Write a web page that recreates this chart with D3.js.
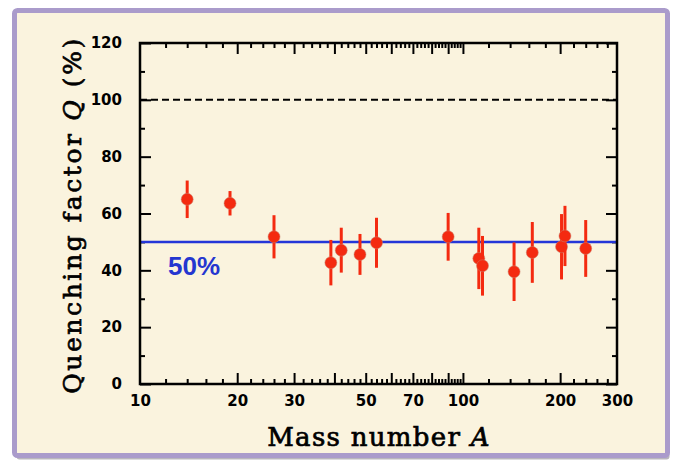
<!DOCTYPE html>
<html>
<head>
<meta charset="utf-8">
<script src="https://cdn.jsdelivr.net/npm/d3@7"></script>
<style>
  html, body { margin: 0; padding: 0; background: #ffffff; }
  svg { display: block; }
</style>
</head>
<body>
<svg id="chart" width="674" height="462"></svg>
<script>
// mass numbers of the measured nuclei
const massNumbers = [14, 19, 26, 39, 42, 48, 54, 90, 112, 115, 144, 164, 202, 207, 240];
// quenching factor Q in percent
const quenching = [65, 63.6, 51.8, 42.7, 47.1, 45.6, 49.7, 51.8, 44.2, 41.6, 39.5, 46.3, 48.3, 52.1, 47.7];
// half length of each error bar
const errors = [6.6, 4.3, 7.6, 8.0, 7.9, 7.2, 8.8, 8.4, 10.8, 10.5, 10.3, 10.7, 11.5, 10.6, 10.0];

const xTickLabels = [10, 20, 30, 50, 70, 100, 200, 300];
const xMajorTicks = [20, 30, 40, 50, 60, 70, 80, 90, 100, 200];
const yTickLabels = [0, 20, 40, 60, 80, 100, 120];
const yMinorTicks = [10, 30, 50, 70, 90, 110];
const referenceLine = 100;
const averageLine = 50;
const averageLabel = '50%';

const width = 674;
const height = 462;
const plot = { left: 140, right: 617, top: 43, bottom: 384 };

const svg = d3.select('#chart');

// outer card with purple border and a little shadow
svg.append('rect')
    .attr('x', 16.5).attr('y', 13.5)
    .attr('width', 653).attr('height', 446)
    .attr('rx', 3)
    .attr('fill', '#b9b6bd');
svg.append('rect')
    .attr('x', 14.5).attr('y', 10.5)
    .attr('width', 653).attr('height', 445)
    .attr('rx', 3)
    .attr('fill', '#faf3de')
    .attr('stroke', '#aa9bcb')
    .attr('stroke-width', 5);

const x = d3.scaleLog()
    .domain([10, 300])
    .range([plot.left, plot.right]);

const y = d3.scaleLinear()
    .domain([0, 120])
    .range([plot.bottom, plot.top]);

// minor ticks: every 2 up to 100, every 20 above
const xMinorTicks = d3.range(12, 100, 2).concat(d3.range(120, 300, 20))
    .filter(v => !xMajorTicks.includes(v));

const tickStyle = g => {
    g.select('.domain').remove();
    g.selectAll('.tick line').attr('stroke', '#000').attr('stroke-width', 2);
    g.selectAll('.tick text')
        .attr('fill', '#000')
        .style('font-family', '"DejaVu Sans", sans-serif')
        .style('font-weight', 'bold')
        .style('font-size', '15px');
};

// bottom and top ticks (pointing inward)
svg.append('g')
    .attr('transform', `translate(0, ${plot.bottom})`)
    .call(d3.axisBottom(x).tickValues(xMajorTicks).tickSize(-11).tickFormat(''))
    .call(tickStyle);
svg.append('g')
    .attr('transform', `translate(0, ${plot.bottom})`)
    .call(d3.axisBottom(x).tickValues(xMinorTicks).tickSize(-5).tickFormat(''))
    .call(tickStyle);
svg.append('g')
    .attr('transform', `translate(0, ${plot.top})`)
    .call(d3.axisTop(x).tickValues(xMajorTicks).tickSize(-11).tickFormat(''))
    .call(tickStyle);
svg.append('g')
    .attr('transform', `translate(0, ${plot.top})`)
    .call(d3.axisTop(x).tickValues(xMinorTicks).tickSize(-5).tickFormat(''))
    .call(tickStyle);

// x tick labels
svg.append('g')
    .attr('transform', `translate(0, ${plot.bottom})`)
    .call(d3.axisBottom(x).tickValues(xTickLabels).tickSize(0).tickPadding(11).tickFormat(d3.format('d')))
    .call(tickStyle);

// left and right ticks
svg.append('g')
    .attr('transform', `translate(${plot.left}, 0)`)
    .call(d3.axisLeft(y).tickValues(yTickLabels).tickSize(-11).tickPadding(18).tickFormat(d3.format('d')))
    .call(tickStyle);
svg.append('g')
    .attr('transform', `translate(${plot.left}, 0)`)
    .call(d3.axisLeft(y).tickValues(yMinorTicks).tickSize(-5).tickFormat(''))
    .call(tickStyle);
svg.append('g')
    .attr('transform', `translate(${plot.right}, 0)`)
    .call(d3.axisRight(y).tickValues(yTickLabels).tickSize(-11).tickFormat(''))
    .call(tickStyle);
svg.append('g')
    .attr('transform', `translate(${plot.right}, 0)`)
    .call(d3.axisRight(y).tickValues(yMinorTicks).tickSize(-5).tickFormat(''))
    .call(tickStyle);

// dashed line at 100%
svg.append('line')
    .attr('x1', plot.left).attr('x2', plot.right)
    .attr('y1', y(referenceLine)).attr('y2', y(referenceLine))
    .attr('stroke', '#000')
    .attr('stroke-width', 2)
    .attr('stroke-dasharray', '7,4');

// blue 50% line and its label
svg.append('line')
    .attr('x1', plot.left).attr('x2', plot.right)
    .attr('y1', y(averageLine)).attr('y2', y(averageLine))
    .attr('stroke', '#2436d8')
    .attr('stroke-width', 2.5);
svg.append('text')
    .attr('x', x(14.7))
    .attr('y', y(averageLine) + 33)
    .attr('text-anchor', 'middle')
    .attr('fill', '#2436d0')
    .style('font-family', '"Liberation Sans", Arial, sans-serif')
    .style('font-weight', 'bold')
    .style('font-size', '26px')
    .text(averageLabel);

// data points with error bars
const points = massNumbers.map((a, i) => ({ a, q: quenching[i], e: errors[i] }));

const groups = svg.selectAll('.point')
    .data(points)
    .enter().append('g')
    .attr('class', 'point');

groups.append('line')
    .attr('x1', d => x(d.a)).attr('x2', d => x(d.a))
    .attr('y1', d => y(d.q + d.e)).attr('y2', d => y(d.q - d.e))
    .attr('stroke', '#f42a10')
    .attr('stroke-width', 3);

groups.append('circle')
    .attr('cx', d => x(d.a))
    .attr('cy', d => y(d.q))
    .attr('r', 6)
    .attr('fill', '#f42a10')
    .attr('stroke', 'rgba(200, 130, 110, 0.5)')
    .attr('stroke-width', 1);

// plot frame
svg.append('rect')
    .attr('x', plot.left).attr('y', plot.top)
    .attr('width', plot.right - plot.left)
    .attr('height', plot.bottom - plot.top)
    .attr('fill', 'none')
    .attr('stroke', '#000')
    .attr('stroke-width', 2.5);

// axis titles (regular serif, thickened a bit with a thin stroke, spaced out)
const xTitle = svg.append('text')
    .attr('x', 379)
    .attr('y', 446)
    .attr('text-anchor', 'middle')
    .attr('fill', '#000')
    .attr('stroke', '#000')
    .attr('stroke-width', 0.7)
    .style('font-family', '"DejaVu Serif", serif')
    .style('font-size', '26px')
    .style('letter-spacing', '1.3px')
    .text('Mass number ');
xTitle.append('tspan').style('font-style', 'italic').text('A');

const yTitle = svg.append('text')
    .attr('transform', `translate(81, 215) rotate(-90)`)
    .attr('text-anchor', 'middle')
    .attr('fill', '#000')
    .attr('stroke', '#000')
    .attr('stroke-width', 0.7)
    .style('font-family', '"DejaVu Serif", serif')
    .style('font-size', '25px')
    .style('letter-spacing', '2.6px')
    .text('Quenching factor ');
yTitle.append('tspan').style('font-style', 'italic').text('Q');
yTitle.append('tspan').text(' (%)');
</script>
</body>
</html>
